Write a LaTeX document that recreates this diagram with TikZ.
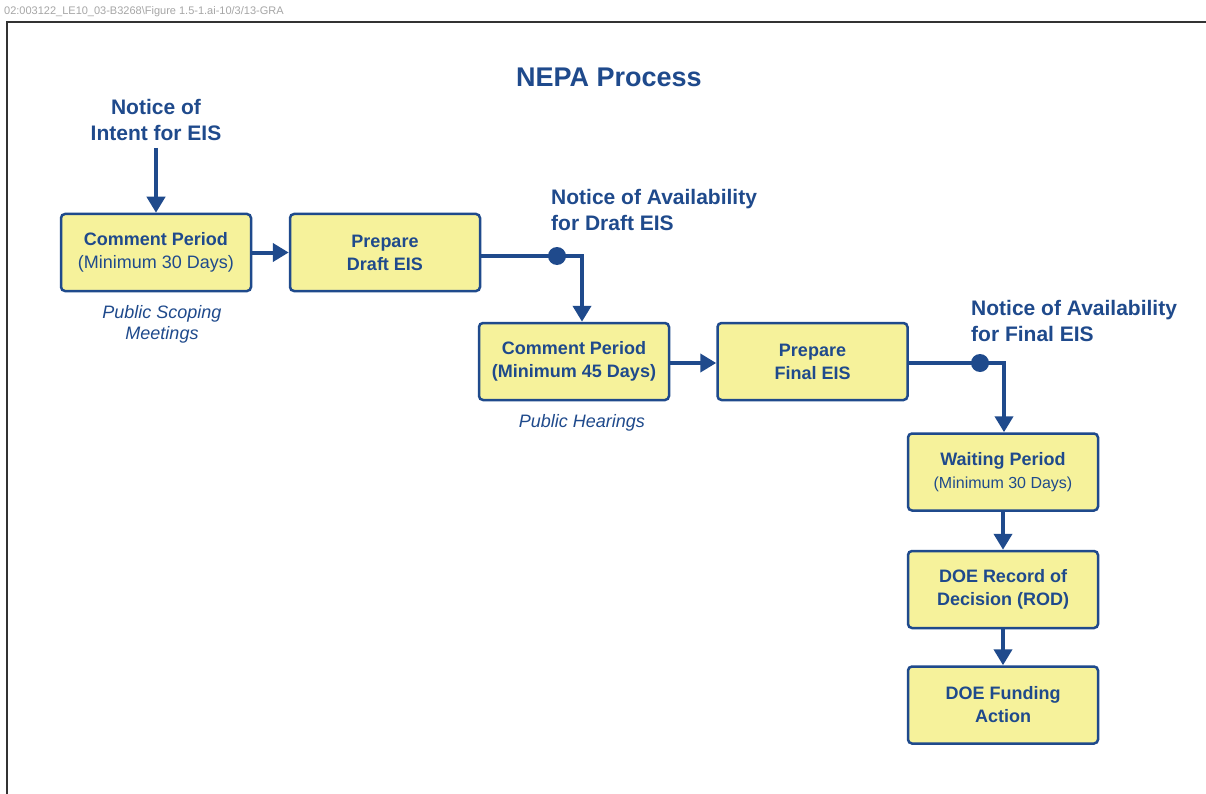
\documentclass[tikz,border=0pt]{standalone}
\usepackage{fontspec}
\setmainfont{Liberation Sans}
\usetikzlibrary{arrows.meta,calc}
\definecolor{nblue}{HTML}{1F4A8C}
\definecolor{nfill}{HTML}{F6F29B}
\tikzset{
  stepbox/.style={draw=nblue, fill=nfill, line width=2.5pt, rounded corners=4pt,
    minimum width=190pt, minimum height=77pt, align=center, text=nblue,
    font=\fontsize{18}{23}\selectfont\bfseries, inner sep=0pt},
  flow/.style={draw=nblue, line width=4pt, -{Triangle[width=18pt,length=16pt]}},
  notice/.style={text=nblue, font=\fontsize{21}{26}\selectfont\bfseries, inner sep=0pt},
  remark/.style={text=nblue, font=\fontsize{18}{21}\selectfont\itshape, align=center, inner sep=0pt},
  jdot/.style={circle, fill=nblue, minimum size=18pt, inner sep=0pt}
}
\begin{document}
\begin{tikzpicture}[x=1pt,y=-1pt]
\useasboundingbox (0,0) rectangle (1206,794);
\fill[white] (0,0) rectangle (1206,794);
\node[anchor=west, text=black!35, font=\fontsize{11}{13}\selectfont, inner sep=0pt] (hdr) at (4,12) {02:003122\_LE10\_03-B3268\textbackslash Figure 1.5-1.ai-10/3/13-GRA};
\draw[black!80, line width=2pt] (1210,22) -- (7,22) -- (7,800);

\node[text=nblue, font=\fontsize{27}{32}\selectfont\bfseries, inner sep=0pt] (title) at (609,77) {NEPA Process};

\node[notice, align=center] (noi) at (156,120) {Notice of\\Intent for EIS};
\node[notice, align=left, anchor=north west] (nad) at (551,189) {Notice of Availability\\for Draft EIS};
\node[notice, align=left, anchor=north west] (naf) at (971,300) {Notice of Availability\\for Final EIS};

\node[stepbox] (b1) at (156,252.5) {Comment Period\\{\mdseries(Minimum 30 Days)}};
\node[stepbox] (b2) at (385,252.5) {Prepare\\Draft EIS};
\node[stepbox] (b3) at (574,361.5) {Comment Period\\(Minimum 45 Days)};
\node[stepbox] (b4) at (812.5,361.5) {Prepare\\Final EIS};
\node[stepbox] (b5) at (1003,472) {Waiting Period\\{\mdseries\fontsize{16}{23}\selectfont(Minimum 30 Days)}};
\node[stepbox] (b6) at (1003,589.5) {DOE Record of\\Decision (ROD)};
\node[stepbox] (b7) at (1003,705) {DOE Funding\\Action};

\node[remark] (r1) at (162,324) {Public Scoping\\Meetings};
\node[remark] (r2) at (582,423) {Public Hearings};

\draw[flow] (noi.south |- 0,148) -- (b1.north);
\draw[flow] (b1.east) -- (b2.west);
\coordinate (j1) at (557,256);
\coordinate (c1) at (582,256);
\draw[flow] (b2.east |- j1) -- (j1) -- (c1) -- (c1 |- b3.north);
\node[jdot] (d1) at (j1) {};
\coordinate (j2) at (980,363);
\coordinate (c2) at (1004,363);
\draw[flow] (b3.east |- j2) -- (b4.west |- j2);
\draw[flow] (b4.east |- j2) -- (j2) -- (c2) -- (c2 |- b5.north);
\node[jdot] (d2) at (j2) {};
\draw[flow] (b5.south) -- (b6.north);
\draw[flow] (b6.south) -- (b7.north);
\end{tikzpicture}
\end{document}
